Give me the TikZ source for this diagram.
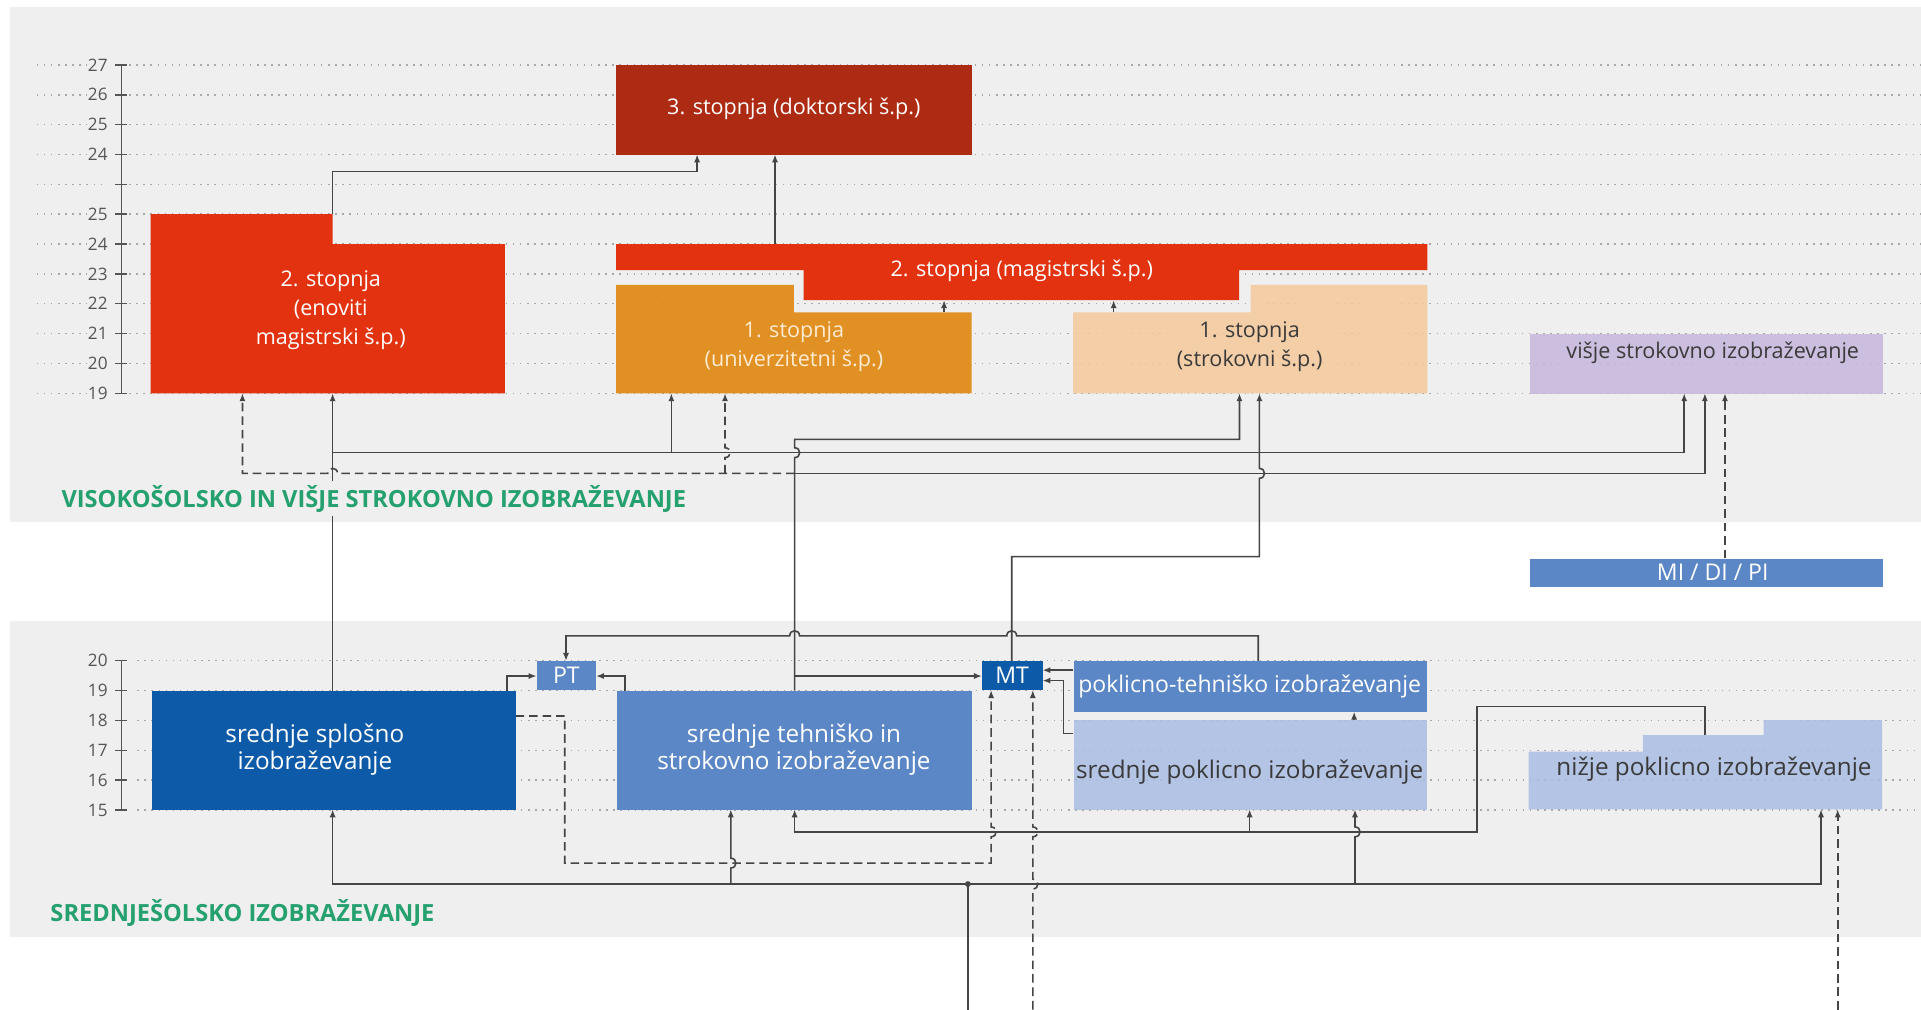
\documentclass[tikz,border=0pt]{standalone}
\usepackage{fontspec}
\setmainfont{Open Sans}
\usetikzlibrary{arrows.meta}
\definecolor{panel}{HTML}{EFEFEF}
\definecolor{dokc}{HTML}{AE2B13}
\definecolor{redc}{HTML}{E2320F}
\definecolor{orac}{HTML}{E0860D}
\definecolor{beic}{HTML}{F4C99B}
\definecolor{lavc}{HTML}{C6B6DC}
\definecolor{midb}{HTML}{5B87C6}
\definecolor{darkb}{HTML}{0D5BA8}
\definecolor{lightb}{HTML}{AABDE3}
\definecolor{greenc}{HTML}{25A06F}
\definecolor{linec}{HTML}{454545}
\definecolor{gridc}{HTML}{A8A8A8}
\definecolor{axisc}{HTML}{555555}
\definecolor{darktxt}{HTML}{3A3A3A}
\definecolor{creamtxt}{HTML}{FDEBD2}
\newcommand\vhopup[2]{-- (#1,#2+4) .. controls (#1+5.5,#2+4) and (#1+5.5,#2-4) .. (#1,#2-4)}
\newcommand\hhopleft[2]{-- (#1+4,#2) .. controls (#1+4,#2-5.5) and (#1-4,#2-5.5) .. (#1-4,#2)}
\begin{document}
\begin{tikzpicture}[x=1pt,y=-1pt,
  griddot/.style={draw=gridc, line width=1.2pt, dash pattern=on 1.2pt off 4.6pt},
  axisline/.style={draw=axisc, line width=1.2pt},
  axlab/.style={font=\fontsize{14}{16}\selectfont, text=axisc, fill=panel, inner sep=1pt, anchor=east},
  boxn/.style={draw=none, inner sep=0pt, anchor=north west},
  labU/.style={font=\fontsize{17.6}{23.5}\selectfont, align=center, inner sep=0pt},
  labL/.style={font=\fontsize{19.8}{22.5}\selectfont, align=center, inner sep=0pt},
  labLs/.style={font=\fontsize{18.8}{22}\selectfont, align=center, inner sep=0pt},
  seclab/.style={font=\bfseries\fontsize{19.3}{21}\selectfont, text=greenc, anchor=west, fill=panel, inner sep=3pt},
  con/.style={draw=linec, line width=1.3pt},
  arr/.style={-{Latex[length=6.5pt,width=5pt]}},
  dsh/.style={dash pattern=on 7pt off 4pt}
]
\useasboundingbox (0,0) rectangle (1568,824);
\fill[white] (0,0) rectangle (1568,824);
\fill[panel] (8,6) rectangle (1568,426);
\fill[panel] (8,507) rectangle (1568,765);

% upper grid and axis
\foreach \i/\lab in {0/27,1/26,2/25,3/24,4/,5/25,6/24,7/23,8/22,9/21,10/20,11/19}{
  \pgfmathsetmacro\yy{53+24.364*\i}
  \draw[griddot] (30,\yy) -- (1568,\yy);
  \draw[axisline] (94,\yy) -- (104,\yy);
  \node[axlab] at (89,\yy) {\lab};
}
\draw[axisline] (99,53) -- (99,321);
% lower grid and axis
\foreach \i/\lab in {0/20,1/19,2/18,3/17,4/16,5/15}{
  \pgfmathsetmacro\yy{539.3+24.38*\i}
  \draw[griddot] (112,\yy) -- (1568,\yy);
  \draw[axisline] (94,\yy) -- (104,\yy);
  \node[axlab] at (89,\yy) {\lab};
}
\draw[axisline] (99,539.3) -- (99,661.2);

% ---- upper boxes
\node[boxn, fill=dokc, minimum width=290pt, minimum height=73pt] (dok) at (503,53) {};
\node[labU, text=white] (dokt) at (648,89) {3. stopnja (doktorski š.p.)};

\fill[redc] (123,174.8) -- (271.5,174.8) -- (271.5,199.2) -- (412,199.2) -- (412,321) -- (123,321) -- cycle;
\node[labU, text=white] (eno) at (270,253) {2. stopnja\\(enoviti\\magistrski š.p.)};

\fill[redc] (503,199.2) -- (1165,199.2) -- (1165,220.4) -- (1011.5,220.4) -- (1011.5,245) -- (656,245) -- (656,220.4) -- (503,220.4) -- cycle;
\node[labU, text=white] (mag) at (834,221) {2. stopnja (magistrski š.p.)};

\fill[orac, fill opacity=0.9] (503,232.6) -- (648,232.6) -- (648,255) -- (793,255) -- (793,321) -- (503,321) -- cycle;
\node[labU, text=creamtxt] (uni) at (648,283) {1. stopnja\\(univerzitetni š.p.)};

\fill[beic, fill opacity=0.85] (876,255) -- (1020.7,255) -- (1020.7,232.6) -- (1165,232.6) -- (1165,321) -- (876,321) -- cycle;
\node[labU, text=darktxt] (stro) at (1020,283) {1. stopnja\\(strokovni š.p.)};

\node[boxn, fill=lavc, fill opacity=0.85, minimum width=288.4pt, minimum height=48.7pt] (vis) at (1248.6,272.3) {};
\node[labU, text=darktxt] (vist) at (1398,288) {višje strokovno izobraževanje};

\node[boxn, fill=midb, minimum width=288.4pt, minimum height=23.3pt] (mdp) at (1248.6,455.7) {};
\node[labLs, text=white] (mdpt) at (1398,467.3) {MI / DI / PI};

% ---- lower boxes
\node[boxn, fill=darkb, minimum width=297pt, minimum height=96.8pt] (spl) at (123.9,563.8) {};
\node[labL, text=white] (splt) at (257,612) {srednje splošno\\izobraževanje};

\node[boxn, fill=midb, minimum width=289.7pt, minimum height=96.8pt] (teh) at (503.6,563.8) {};
\node[labL, text=white] (teht) at (648,612) {srednje tehniško in\\strokovno izobraževanje};

\node[boxn, fill=midb, minimum width=48.5pt, minimum height=23.8pt] (pt) at (438,539.5) {};
\node[labLs, text=white] (ptt) at (462.3,551.4) {PT};

\node[boxn, fill=darkb, minimum width=49.4pt, minimum height=23.8pt] (mt) at (801.5,539.5) {};
\node[labLs, text=white] (mtt) at (826.2,551.4) {MT};

\node[boxn, fill=midb, minimum width=288.6pt, minimum height=41.4pt] (pte) at (876.2,539.5) {};
\node[labLs, text=white] (ptet) at (1020,560) {poklicno-tehniško izobraževanje};

\node[boxn, fill=lightb, fill opacity=0.85, minimum width=288.6pt, minimum height=72.8pt] (spk) at (876.2,587.8) {};
\node[labL, text=darktxt] (spkt) at (1020,630) {srednje poklicno izobraževanje};

\fill[lightb, fill opacity=0.85] (1247.8,613.5) -- (1341,613.5) -- (1341,600) -- (1439.6,600) -- (1439.6,587.8) -- (1536.2,587.8) -- (1536.2,660.6) -- (1247.8,660.6) -- cycle;
\node[labL, text=darktxt] (niz) at (1399,628) {nižje poklicno izobraževanje};

% ---- connectors upper
\draw[con,arr] (271.5,174.8) -- (271.5,140) -- (569,140) -- (569,126);
\draw[con,arr] (632.6,199.2) -- (632.6,126);
\draw[con,arr] (770.6,255) -- (770.6,245);
\draw[con,arr] (909,255) -- (909,245);

% from srednje splosno
\draw[con,arr] (271.5,563.8) -- (271.5,321);
\draw[con,arr] (271.5,369.5) -- (1374.7,369.5) -- (1374.7,321);
\draw[con,arr] (548,369.5) -- (548,321);

% from srednje tehnisko (vertical 648.6)
\draw[con,arr] (648.6,563.8) \vhopup{648.6}{369.5} -- (648.6,358.6) -- (1011.7,358.6) -- (1011.7,321);
\draw[con,arr] (648.6,386.4) -- (1391.6,386.4) -- (1391.6,321);
\draw[con,dsh,arr] (648.6,386.4) \hhopleft{271.5}{386.4} -- (197.9,386.4) -- (197.9,321);
\draw[con,dsh,arr] (591.8,386.4) \vhopup{591.8}{369.5} -- (591.8,321);
\draw[con,arr] (648.6,551.8) -- (801.5,551.8);

% MT -> strokovni
\draw[con,arr] (825.8,539.5) -- (825.8,454.4) -- (1028,454.4) \vhopup{1028}{386.4} -- (1028,321);

% poklicno-tehnisko -> PT
\draw[con,arr] (1027,539.5) -- (1027,519) \hhopleft{825.8}{519} \hhopleft{648.6}{519} -- (462,519) -- (462,539.5);

% -> PT
\draw[con,arr] (413.6,563.8) -- (413.6,551.8) -- (438,551.8);
\draw[con,arr] (510,563.8) -- (510,551.8) -- (486.5,551.8);

% dashed splosno -> MT
\draw[con,dsh,arr] (420.9,584.4) -- (461,584.4) -- (461,704.5) -- (809,704.5) \vhopup{809}{679} -- (809,563.3);

% -> MT from right
\draw[con,arr] (876.2,547) -- (850.9,547);
\draw[con,arr] (876.2,598.6) -- (868,598.6) -- (868,555.5) -- (850.9,555.5);

% srednje poklicno -> poklicno-tehnisko
\draw[con,arr] (1105.3,587.8) -- (1105.3,580.9);

% nizje -> srednje poklicno / tehnisko
\draw[con,arr] (1391.6,600) -- (1391.6,576.8) -- (1205.6,576.8) -- (1205.6,679) -- (648.6,679) -- (648.6,660.6);
\draw[con,arr] (1020,679) -- (1020,660.6);

% bottom line
\draw[con] (790,824) -- (790,721.6);
\fill[linec] (790,721.6) circle[radius=2.4pt];
\draw[con,{Latex[length=6.5pt,width=5pt]}-{Latex[length=6.5pt,width=5pt]}] (271.5,660.6) -- (271.5,721.6) -- (1486.4,721.6) -- (1486.4,660.6);
\draw[con,arr] (596.5,721.6) \vhopup{596.5}{704.5} -- (596.5,660.6);
\draw[con,arr] (1106,721.6) \vhopup{1106}{679} -- (1106,660.6);

% dashed from below
\draw[con,dsh,arr] (843,824) \vhopup{843}{721.6} \vhopup{843}{679} -- (843,563.3);
\draw[con,dsh,arr] (1500,824) -- (1500,660.6);
\draw[con,dsh,arr] (1408,455.7) -- (1408,321);

% section labels
\node[seclab] (sec1) at (47,407) {VISOKOŠOLSKO IN VIŠJE STROKOVNO IZOBRAŽEVANJE};
\node[seclab] (sec2) at (38,745) {SREDNJEŠOLSKO IZOBRAŽEVANJE};
\end{tikzpicture}
\end{document}
